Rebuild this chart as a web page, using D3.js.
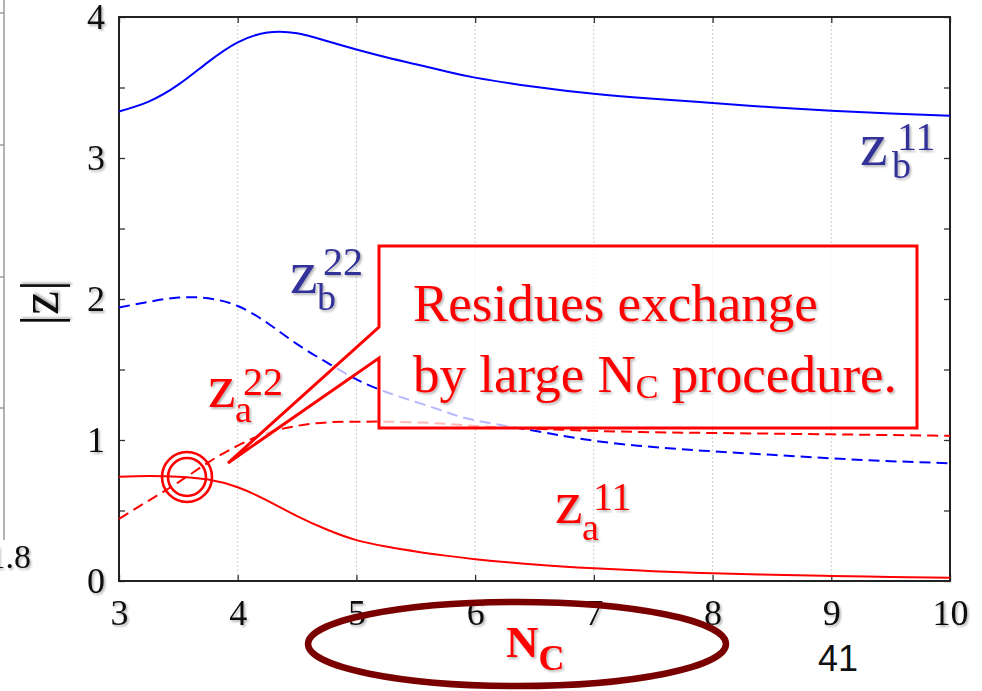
<!DOCTYPE html>
<html>
<head>
<meta charset="utf-8">
<script src="https://cdn.jsdelivr.net/npm/d3@7"></script>
<style>
  html, body { margin: 0; padding: 0; background: #fff; }
  svg { display: block; }
</style>
</head>
<body>
<svg id="chart" width="982" height="691"></svg>
<script>
// N_C sample points
const nc = [3, 3.25, 3.5, 3.75, 4, 4.25, 4.5, 4.75, 5, 5.25, 5.5, 5.75, 6, 6.5, 7, 7.5, 8, 8.5, 9, 9.5, 10];
// |z| residues along N_C
const zb11 = [3.33, 3.40, 3.52, 3.68, 3.82, 3.89, 3.885, 3.83, 3.77, 3.715, 3.665, 3.615, 3.57, 3.505, 3.455, 3.42, 3.39, 3.36, 3.335, 3.315, 3.30];
const zb22 = [1.94, 1.98, 2.01, 2.005, 1.95, 1.83, 1.68, 1.55, 1.43, 1.34, 1.27, 1.20, 1.14, 1.065, 0.995, 0.95, 0.92, 0.895, 0.87, 0.85, 0.835];
const za22 = [0.44, 0.57, 0.70, 0.84, 0.96, 1.05, 1.10, 1.125, 1.13, 1.13, 1.125, 1.115, 1.10, 1.08, 1.065, 1.055, 1.05, 1.045, 1.04, 1.035, 1.03];
const za11 = [0.74, 0.745, 0.74, 0.72, 0.665, 0.57, 0.46, 0.365, 0.29, 0.245, 0.21, 0.18, 0.155, 0.117, 0.09, 0.07, 0.055, 0.045, 0.036, 0.029, 0.023];

const xTicks = [3, 4, 5, 6, 7, 8, 9, 10];
const yTicks = [0, 0.5, 1, 1.5, 2, 2.5, 3, 3.5, 4];
const yLabels = [0, 1, 2, 3, 4];
const gridX = [4, 5, 6, 7, 8, 9];

const serif = "'Liberation Serif', 'Times New Roman', Times, serif";
const svg = d3.select("#chart");

const defs = svg.append("defs");
const sh = defs.append("filter").attr("id", "shadow")
  .attr("x", "-20%").attr("y", "-20%").attr("width", "150%").attr("height", "150%");
sh.append("feDropShadow").attr("dx", 1.6).attr("dy", 1.8).attr("stdDeviation", 1.1)
  .attr("flood-color", "#000").attr("flood-opacity", 0.3);

const plot = { left: 119, right: 950, top: 17, bottom: 581 };
const x = d3.scaleLinear().domain([3, 10]).range([plot.left, plot.right]);
const y = d3.scaleLinear().domain([0, 4]).range([plot.bottom, plot.top]);

// neighbouring panel edge at the far left
const edge = svg.append("g").attr("stroke", "#9a9a9a").attr("stroke-width", 1.5);
edge.append("line").attr("x1", 4).attr("x2", 4).attr("y1", 0).attr("y2", 540);
[13, 145, 277, 408].forEach(v => edge.append("line").attr("x1", 0).attr("x2", 4).attr("y1", v).attr("y2", v));
svg.append("text").attr("x", 31).attr("y", 568).attr("text-anchor", "end")
  .attr("font-family", serif).attr("font-size", 34).attr("fill", "#111")
  .attr("filter", "url(#shadow)").text("1.8");

// vertical grid
svg.append("g").selectAll("line").data(gridX).join("line")
  .attr("x1", d => x(d)).attr("x2", d => x(d))
  .attr("y1", plot.top).attr("y2", plot.bottom)
  .attr("stroke", "#cfcfcf").attr("stroke-width", 1).attr("stroke-dasharray", "2,2");

// axes with inward ticks
function styleAxis(g) {
  g.select(".domain").remove();
  g.selectAll(".tick line").attr("stroke", "#333").attr("stroke-width", 1.3);
  g.selectAll("text").attr("font-family", serif).attr("font-size", 36).attr("fill", "#111")
    .attr("filter", "url(#shadow)");
}
svg.append("g").attr("transform", `translate(0,${plot.bottom})`)
  .call(d3.axisBottom(x).tickValues(xTicks).tickSize(-6).tickPadding(18).tickFormat(d3.format("d")))
  .call(styleAxis);
svg.append("g").attr("transform", `translate(0,${plot.top})`)
  .call(d3.axisTop(x).tickValues(xTicks).tickSize(-6).tickFormat(""))
  .call(styleAxis);
svg.append("g").attr("transform", `translate(${plot.left},0)`)
  .call(d3.axisLeft(y).tickValues(yTicks).tickSize(-6).tickPadding(14)
    .tickFormat(d => yLabels.includes(d) ? d3.format("d")(d) : ""))
  .call(styleAxis);
svg.append("g").attr("transform", `translate(${plot.right},0)`)
  .call(d3.axisRight(y).tickValues(yTicks).tickSize(-6).tickFormat(""))
  .call(styleAxis);

// frame
svg.append("rect").attr("x", plot.left).attr("y", plot.top)
  .attr("width", plot.right - plot.left).attr("height", plot.bottom - plot.top)
  .attr("fill", "none").attr("stroke", "#222").attr("stroke-width", 2);

// y title |z|
svg.append("text").attr("transform", "translate(58,303) rotate(-90)")
  .attr("text-anchor", "middle").attr("font-family", serif).attr("font-size", 54)
  .attr("fill", "#111").attr("filter", "url(#shadow)").text("|z|");

// curves
const line = d3.line().x((d, i) => x(nc[i])).y(d => y(d)).curve(d3.curveNatural);
const series = [
  { v: zb11, color: "#0000ff", dash: null },
  { v: zb22, color: "#0000ff", dash: "11,6" },
  { v: za22, color: "#ff0000", dash: "11,6" },
  { v: za11, color: "#ff0000", dash: null }
];
svg.append("g").selectAll("path").data(series).join("path")
  .attr("d", d => line(d.v)).attr("fill", "none")
  .attr("stroke", d => d.color).attr("stroke-width", 2)
  .attr("stroke-dasharray", d => d.dash);

// crossing marker
[25, 19].forEach(r => svg.append("circle").attr("cx", 187).attr("cy", 477).attr("r", r)
  .attr("fill", "none").attr("stroke", "#ff0000").attr("stroke-width", 2.6));

// callout
svg.append("path")
  .attr("d", "M379,246 H917 V428 H379 V358 L228,463 L379,327 Z")
  .attr("fill", "#fff").attr("fill-opacity", 0.72)
  .attr("stroke", "#ff0000").attr("stroke-width", 3).attr("stroke-linejoin", "miter");
const ct = svg.append("g").attr("font-family", serif).attr("fill", "#ff0000").attr("filter", "url(#shadow)");
ct.append("text").attr("x", 413).attr("y", 321).attr("font-size", 53).text("Residues exchange");
const l2 = ct.append("text").attr("x", 413).attr("y", 392).attr("font-size", 53);
l2.append("tspan").text("by large N");
l2.append("tspan").attr("font-size", 34).attr("dy", 6).text("C");
l2.append("tspan").attr("dy", -6).text(" procedure.");

// series labels
const labels = [
  { base: "b", idx: "11", color: "#333399", z: [860, 165], sub: [892, 178], sup: [897, 150] },
  { base: "b", idx: "22", color: "#333399", z: [290, 293], sub: [317, 310], sup: [323, 275] },
  { base: "a", idx: "22", color: "#ff0000", z: [208, 407], sub: [235, 422], sup: [243, 395] },
  { base: "a", idx: "11", color: "#ff0000", z: [555, 523], sub: [582, 540], sup: [593, 510] }
];
const lg = svg.append("g").attr("font-family", serif).attr("filter", "url(#shadow)");
labels.forEach(l => {
  lg.append("text").attr("x", l.z[0]).attr("y", l.z[1]).attr("font-size", 62).attr("fill", l.color).text("z");
  lg.append("text").attr("x", l.sub[0]).attr("y", l.sub[1]).attr("font-size", 38).attr("fill", l.color).text(l.base);
  lg.append("text").attr("x", l.sup[0]).attr("y", l.sup[1]).attr("font-size", 40).attr("fill", l.color).text(l.idx);
});

// x title with highlight ellipse
svg.append("ellipse").attr("cx", 517).attr("cy", 644).attr("rx", 209).attr("ry", 42)
  .attr("fill", "none").attr("stroke", "#7a0000").attr("stroke-width", 6.5);
const xt = svg.append("text").attr("x", 506).attr("y", 657).attr("font-family", serif)
  .attr("font-weight", "bold").attr("font-size", 45).attr("fill", "#ff0000").attr("filter", "url(#shadow)");
xt.append("tspan").text("N");
xt.append("tspan").attr("font-size", 36).attr("dy", 13).text("C");

// page number
svg.append("text").attr("x", 818).attr("y", 671).attr("font-family", "'Liberation Sans', Arial, sans-serif")
  .attr("font-size", 36).attr("fill", "#111").text("41");
</script>
</body>
</html>
